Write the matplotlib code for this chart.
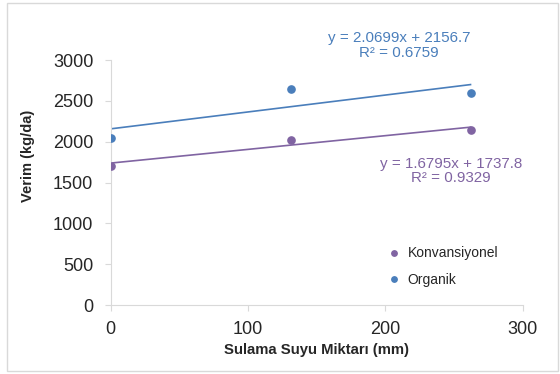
import numpy as np
import matplotlib
matplotlib.use("Agg")
import matplotlib.pyplot as plt
from matplotlib.patches import Rectangle

plt.rcParams['font.family'] = ['Liberation Sans', 'DejaVu Sans']

# Data
x_vals = [0, 131, 262]
konv = [1705, 2023, 2145]
organik = [2050, 2642, 2592]
series_names = ["Konvansiyonel", "Organik"]
eq_konv = ["y = 1.6795x + 1737.8", "R² = 0.9329"]
eq_org = ["y = 2.0699x + 2156.7", "R² = 0.6759"]
xticks = [0, 100, 200, 300]
yticks = [0, 500, 1000, 1500, 2000, 2500, 3000]

c_konv = "#8064A2"
c_org = "#4A7EBB"
gray = "#D9D9D9"

fig = plt.figure(figsize=(5.6, 3.74), dpi=100)
ax = fig.add_axes([110.7/560, 1-305/374, (522.7-110.7)/560, (305-60)/374])

x = np.array(x_vals, dtype=float)
for ys, c, name in [(konv, c_konv, series_names[0]), (organik, c_org, series_names[1])]:
    ax.plot(x, ys, 'o', color=c, markersize=5.2, label=name, zorder=3)
    k, b = np.polyfit(x, ys, 1)
    xx = np.array([x.min(), x.max()])
    ax.plot(xx, k*xx + b, '-', color=c, lw=1.2, zorder=2)

ax.set_xlim(0, 300)
ax.set_ylim(0, 3000)
ax.set_xticks(xticks)
ax.set_yticks(yticks)
ax.tick_params(axis='both', labelsize=13, color=gray, length=4.5, width=0.8,
               labelcolor="#262626")
ax.tick_params(axis='y', pad=8)
ax.tick_params(axis='x', pad=7)
for s in ['top', 'right']:
    ax.spines[s].set_visible(False)
for s in ['left', 'bottom']:
    ax.spines[s].set_color(gray)
    ax.spines[s].set_linewidth(0.8)
ax.spines['bottom'].set_zorder(1)

ax.set_xlabel("Sulama Suyu Miktarı (mm)", fontsize=10.7, fontweight='bold', color="#262626")
ax.xaxis.set_label_coords(0.5, -(350-305)/245, transform=ax.transAxes)
ax.set_ylabel("Verim (kg/da)", fontsize=10.5, fontweight='bold', color="#262626")
ax.yaxis.set_label_coords(-(110.7-28)/412, (305-156)/245, transform=ax.transAxes)
ax.xaxis.label.set_va('center')
ax.yaxis.label.set_va('center')

fig.text(399/560, 1-45.5/374, "\n".join(eq_org), ha='center', va='center',
         fontsize=10.9, color=c_org, linespacing=1.05)
fig.text(451/560, 1-171/374, "\n".join(eq_konv), ha='center', va='center',
         fontsize=10.9, color=c_konv, linespacing=1.05)

leg = ax.legend(loc='upper left', bbox_to_anchor=(373/560, 1-234/374),
                bbox_transform=fig.transFigure, frameon=False, fontsize=10,
                markerscale=0.75, handletextpad=0.4, labelspacing=0.9,
                handlelength=1.2)
for t in leg.get_texts():
    t.set_color("#262626")

fig.patches.append(Rectangle((7/560, 1-370.5/374), (558-7)/560, (370.5-3)/374,
                             transform=fig.transFigure, fill=False,
                             edgecolor=gray, lw=1))

fig.savefig("out.png", dpi=100)
